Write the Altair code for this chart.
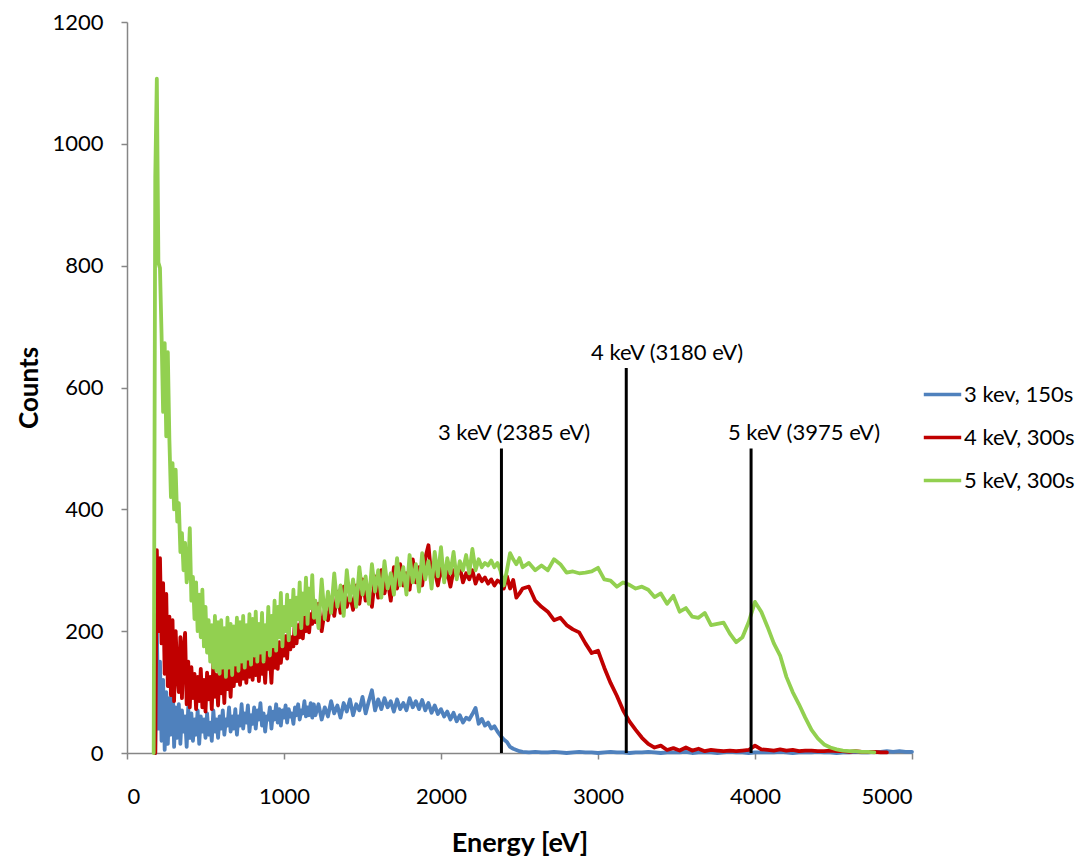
import altair as alt
import pandas as pd

SERIES = ["3 kev, 150s", "4 keV, 300s", "5 keV, 300s"]
COLORS = ["#4F81BD", "#C00000", "#92D050"]

# channel grids (start energy, channel step in eV) for three spectrum segments
A_START, A_STEP = 170, 10
B_START, B_STEP = 1200, 20
C_START, C_STEP = 2520, 40

# ---- 3 keV, 150 s ----
blue_a = [None, 0, 205, 40, 150, 20, 120, 5, 100, 15,
          90, 30, 131, 10, 75, 25, 80, 15, 70, 35,
          60, 10, 75, 25, 65, 20, 55, 30, 70, 15,
          60, 35, 55, 25, 65, 30, 50, 20, 70, 35,
          55, 25, 60, 40, 70, 30, 55, 45, 75, 35,
          60, 40, 72, 30, 60, 45, 80, 40, 65, 50,
          78, 35, 62, 48, 75, 40, 70, 55, 82, 45,
          65, 35, 60, 55, 75, 40, 68, 55, 80, 50,
          72, 45, 70, 58, 78, 50, 72, 60, 65, 48,
          75, 62, 80, 55, 70, 65, 85, 60, 75, 62,
          82, 58, 80]
blue_b = [62, 80, 55, 75, 60, 85, 65, 78, 58, 82,
          68, 88, 62, 80, 70, 92, 65, 85, 103, 70,
          88, 72, 90, 75, 85, 68, 88, 72, 82, 70,
          90, 75, 85, 72, 87, 70, 82, 66, 78, 64,
          72, 60, 68, 55, 66, 52, 62, 50, 58, 55,
          64, 74, 48, 56, 45, 50, 40, 44, 35, 28,
          22, 18, 10, 7, 5, 3]
blue_c = [2, 1, 2, 1, 1, 2, 1, 0, 1, 2,
          1, 1, 0, 1, 2, 1, 1, 0, 1, 1,
          2, 1, 0, 1, 1, 1, 2, 0, 1, 1,
          1, 0, 1, 2, 1, 1, 0, 1, 1, 1,
          1, 2, 1, 0, 1, 1, 1, 2, 1, 1,
          0, 1, 1, 2, 1, 1, 2, 2, 3, 2,
          3, 2, 2]

# ---- 4 keV, 300 s ----
red_a = [None, 0, 333, 200, 320, 180, 279, 130, 261, 110,
         224, 95, 218, 85, 200, 131, 100, 190, 90, 170,
         197, 80, 150, 75, 141, 90, 130, 72, 125, 85,
         138, 75, 120, 68, 132, 88, 125, 72, 148, 92,
         128, 78, 142, 98, 135, 82, 148, 105, 138, 92,
         152, 110, 145, 118, 155, 112, 150, 122, 160, 115,
         152, 125, 162, 120, 158, 128, 165, 118, 160, 130,
         155, 115, 168, 138, 160, 115, 172, 140, 168, 138,
         182, 148, 178, 160, 192, 155, 200, 170, 190, 175,
         220, 180, 210, 190, 232, 188, 222, 200, 238, 198,
         228, 212, 248]
red_b = [215, 245, 200, 235, 218, 255, 225, 265, 230, 273,
         240, 260, 235, 275, 245, 285, 250, 270, 240, 290,
         255, 300, 262, 285, 250, 305, 270, 310, 275, 295,
         268, 318, 280, 305, 275, 320, 341, 285, 300, 275,
         305, 285, 298, 273, 300, 290, 305, 280, 295, 285,
         300, 278, 292, 282, 288, 278, 285, 275, 283, 280,
         270, 290, 270, 284, 255, 262]
red_c = [270, 273, 250, 240, 232, 218, 222, 210, 203, 198,
         180, 164, 168, 140, 115, 94, 70, 52, 38, 25,
         15, 9, 12, 5, 8, 4, 9, 4, 7, 3,
         5, 4, 3, 4, 3, 4, 5, 12, 6, 5,
         4, 6, 4, 5, 3, 4, 4, 3, 3, 4,
         3, 3, 2, 3, 2, 2, 2, 1, 1, None,
         None, None, None]

# ---- 5 keV, 300 s ----
green_a = [0, 945, 1107, 805, 796, 688, 560, 673, 520, 658,
           514, 420, 476, 400, 465, 380, 410, 330, 361, 300,
           345, 280, 300, 369, 250, 289, 220, 280, 200, 260,
           190, 268, 175, 240, 165, 218, 150, 210, 140, 225,
           135, 215, 130, 218, 140, 205, 125, 222, 140, 212,
           128, 208, 145, 222, 135, 215, 150, 225, 140, 210,
           155, 228, 145, 220, 160, 232, 150, 212, 165, 230,
           150, 210, 170, 240, 160, 225, 175, 250, 168, 240,
           190, 263, 175, 240, 200, 260, 185, 250, 210, 268,
           195, 255, 220, 280, 205, 262, 228, 288, 212, 270,
           238, 292, 222]
green_b = [250, 205, 285, 220, 265, 230, 295, 240, 275, 225,
           300, 250, 285, 240, 305, 260, 290, 245, 310, 265,
           300, 255, 315, 270, 295, 260, 320, 275, 305, 260,
           325, 280, 310, 265, 328, 285, 315, 270, 330, 290,
           338, 280, 320, 295, 330, 285, 315, 300, 325, 295,
           335, 300, 318, 305, 312, 308, 316, 305, 312, 298,
           275, 300, 328, 318, 310, 320]
green_c = [305, 312, 300, 308, 300, 318, 310, 296, 298, 295,
           296, 298, 304, 285, 283, 273, 280, 276, 270, 273,
           268, 256, 262, 245, 258, 232, 238, 224, 222, 230,
           210, 212, 214, 196, 182, 190, 215, 248, 232, 207,
           180, 160, 125, 100, 80, 58, 38, 24, 14, 9,
           6, 4, 3, 3, 2, 2, 1, None, None, None,
           None, None, None]

# reference energies of the three runs
ref_energy = [2385, 3180, 3975]
ref_top = [500, 632, 500]
ref_text = ["3 keV (2385 eV)", "4 keV (3180 eV)", "5 keV (3975 eV)"]
ref_text_x = [2465, 3440, 4312]
ref_text_y = [525, 657, 525]

X_TICKS = [0, 1000, 2000, 3000, 4000, 5000]
Y_TICKS = [0, 200, 400, 600, 800, 1000, 1200]


def build(name, a, b, c):
    rows = []
    for start, step, vals in ((A_START, A_STEP, a), (B_START, B_STEP, b), (C_START, C_STEP, c)):
        for i, v in enumerate(vals):
            rows.append({"energy": start + step * i, "counts": v, "series": name})
    return pd.DataFrame(rows)


frames = [build(SERIES[0], blue_a, blue_b, blue_c),
          build(SERIES[1], red_a, red_b, red_c),
          build(SERIES[2], green_a, green_b, green_c)]

FONT = "Lato"

x_enc = alt.X("energy:Q", scale=alt.Scale(domain=[0, 5000], nice=False),
              axis=alt.Axis(values=X_TICKS, title="Energy [eV]", labelPadding=27,
                            titlePadding=23, titleFontSize=27, format="d"))
y_enc = alt.Y("counts:Q", scale=alt.Scale(domain=[0, 1200], nice=False),
              axis=alt.Axis(values=Y_TICKS, title="Counts", labelPadding=18,
                            titlePadding=9, titleFontSize=26, format="d"))
color_enc = alt.Color("series:N",
                      scale=alt.Scale(domain=SERIES, range=COLORS),
                      legend=alt.Legend(title=None, orient="none", legendX=795, legendY=352,
                                        symbolType="stroke", symbolStrokeWidth=3.5,
                                        symbolSize=1400, labelFontSize=22, labelFont=FONT,
                                        labelColor="black", rowPadding=11, labelOffset=1))

lines = [alt.Chart(df).mark_line(strokeWidth=3.8, strokeJoin="round", strokeCap="round")
         .encode(x=x_enc, y=y_enc, color=color_enc)
         for df in frames]

rules_df = pd.DataFrame({"energy": ref_energy, "counts": ref_top})
rules = alt.Chart(rules_df).mark_rule(color="black", strokeWidth=3).encode(
    x=x_enc, y=y_enc, y2=alt.datum(0))

text_df = pd.DataFrame({"energy": ref_text_x, "counts": ref_text_y, "label": ref_text})
texts = alt.Chart(text_df).mark_text(font=FONT, fontSize=22, color="black",
                                     align="center", baseline="middle").encode(
    x=x_enc, y=y_enc, text="label:N")

chart = alt.layer(*lines, rules, texts).properties(
    width=785, height=731,
    autosize=alt.AutoSizeParams(type="none"),
    padding={"left": 119, "top": 14, "right": 164, "bottom": 109},
).configure(font=FONT).configure_view(stroke=None).configure_axis(
    grid=False, domainColor="#868686", tickColor="#868686", domainWidth=1.5,
    tickWidth=1.5, tickSize=6, labelFontSize=22, labelColor="black", labelFont=FONT,
    titleFont=FONT, titleFontWeight="bold", titleColor="black")

chart.save("out.html", embed_options={"renderer": "svg", "actions": False})
